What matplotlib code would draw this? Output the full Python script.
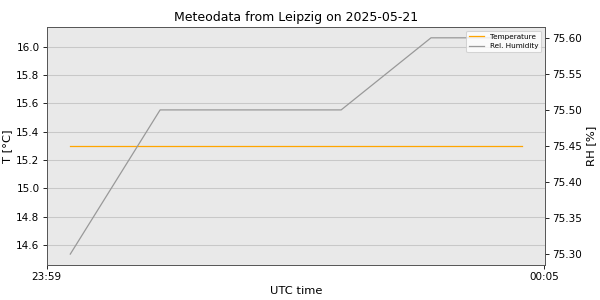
import matplotlib
matplotlib.use("Agg")
import matplotlib.pyplot as plt

# Data (seconds after 23:59 UTC)
times_s = [17, 82, 147, 213, 278, 344]
temperature = [15.3, 15.3, 15.3, 15.3, 15.3, 15.3]
humidity = [75.3, 75.5, 75.5, 75.5, 75.6, 75.6]
tick_labels = ["23:59", "00:05"]

fig, ax = plt.subplots(figsize=(8, 4), dpi=75)
fig.subplots_adjust(left=0.078, right=0.908, top=0.91, bottom=0.117)

ax.set_facecolor("#e9e9e9")
ax.grid(True, axis="y", color="#c8c8c8", linewidth=1)
ax.set_axisbelow(True)

l1, = ax.plot(times_s, temperature, color="orange", linewidth=1.2, label="Temperature")
ax.set_ylim(14.46, 16.14)
ax.set_ylabel("T [°C]", fontsize=11)
ax.set_xlabel("UTC time", fontsize=11)

ax2 = ax.twinx()
l2, = ax2.plot(times_s, humidity, color="#999999", linewidth=1.2, label="Rel. Humidity")
ax2.set_ylabel("RH [%]", fontsize=11)
ax2.yaxis.set_major_formatter(matplotlib.ticker.FormatStrFormatter("%.2f"))

ax.set_xticks([0, 360])
ax.set_xticklabels(tick_labels)

for a in (ax, ax2):
    for s in a.spines.values():
        s.set_color("#555555")

ax2.legend([l1, l2], ["Temperature", "Rel. Humidity"], loc="upper right", fontsize=7)
ax.set_title("Meteodata from Leipzig on 2025-05-21")

fig.savefig("out.png")
